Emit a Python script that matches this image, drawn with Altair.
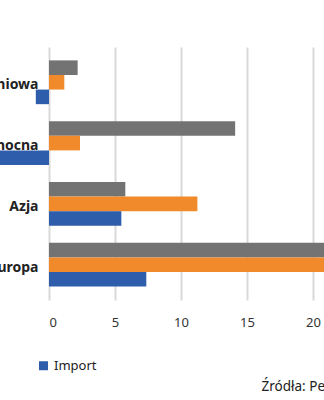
import altair as alt
import pandas as pd

regions = ["Ameryka Południowa", "Ameryka Północna", "Azja", "Europa"]
series = ["Import", "Eksport", "Saldo"]
import_vals = [-1.0, -11.75, 5.48, 7.37]
export_vals = [1.16, 2.35, 11.24, 30.0]
saldo_vals = [2.17, 14.1, 5.78, 22.6]
colors = ["#2e5dab", "#f08a2b", "#737373"]

rows = []
for i, r in enumerate(regions):
    rows.append({"region": r, "series": "Saldo", "value": saldo_vals[i], "ord": 0})
    rows.append({"region": r, "series": "Eksport", "value": export_vals[i], "ord": 1})
    rows.append({"region": r, "series": "Import", "value": import_vals[i], "ord": 2})
df = pd.DataFrame(rows)

FONT = "Noto Sans"

chart = alt.Chart(df).mark_bar(clip=False).encode(
    y=alt.Y("region:N", sort=regions,
            scale=alt.Scale(paddingInner=0.28, paddingOuter=0.22),
            axis=alt.Axis(title=None, ticks=False, domain=False, labelPadding=11,
                          labelOffset=3,
                          labelFont=FONT, labelFontSize=14, labelFontWeight="bold",
                          labelColor="#222222", labelLimit=300, grid=False)),
    yOffset=alt.YOffset("ord:O", scale=alt.Scale(paddingInner=0, paddingOuter=0)),
    x=alt.X("value:Q", scale=alt.Scale(domain=[0, 20.83], nice=False, zero=False),
            axis=alt.Axis(title=None, values=[0, 5, 10, 15, 20], ticks=False, domain=False,
                          labelPadding=16, labelFont=FONT, labelFontSize=13,
                          labelColor="#333333", gridColor="#d9d9d9", gridWidth=2)),
    color=alt.Color("series:N", sort=series,
                    scale=alt.Scale(domain=series, range=colors),
                    legend=alt.Legend(title=None, orient="none", legendX=-12, legendY=312,
                                      direction="horizontal", symbolType="square",
                                      symbolSize=81, symbolStrokeWidth=0, labelOffset=4,
                                      labelFont=FONT, labelFontSize=13, labelColor="#222222",
                                      columnPadding=320, labelLimit=300)),
).properties(
    width=275,
    height=253,
    autosize=alt.AutoSizeParams(type="none"),
    padding={"left": 49, "top": 47, "right": 0, "bottom": 100},
    title=alt.TitleParams("Źródła: Pe", orient="bottom", anchor="start", dx=372, offset=7,
                          font=FONT, fontSize=13.5, fontWeight="normal", color="#222222"),
).configure_view(stroke=None)

chart.save("out.html", embed_options={"renderer": "svg", "actions": False})
